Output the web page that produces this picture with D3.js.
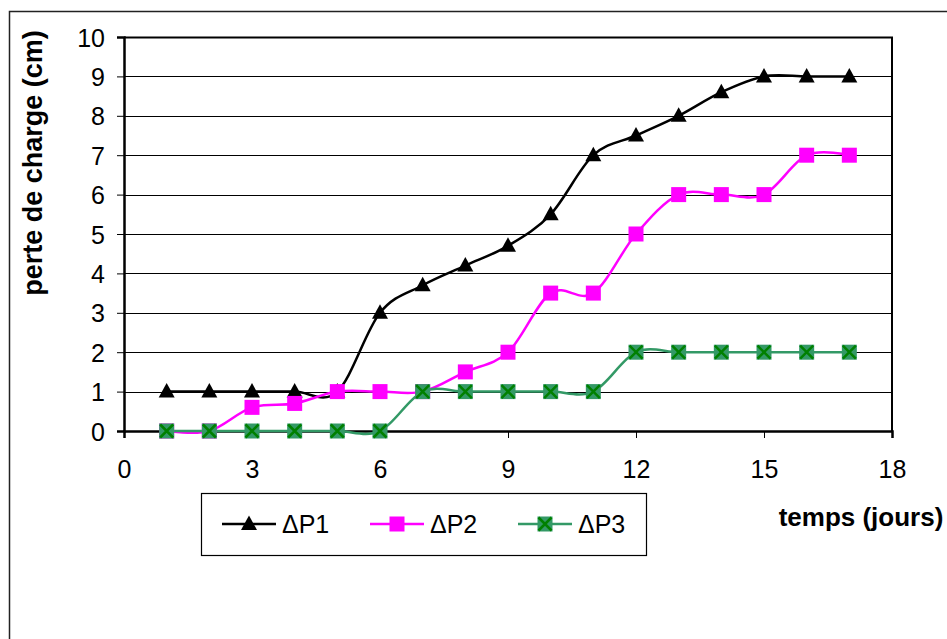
<!DOCTYPE html>
<html><head><meta charset="utf-8">
<script src="https://cdn.jsdelivr.net/npm/d3@7"></script>
<style>body{margin:0;background:#fff}svg{display:block}text{font-family:"Liberation Sans",Arial,sans-serif}</style>
</head><body><svg id="c" width="947" height="639"></svg>
<script>
const days = [1,2,3,4,5,6,7,8,9,10,11,12,13,14,15,16,17];
const dP1 = [1,1,1,1,1,3,3.7,4.2,4.7,5.5,7,7.5,8,8.6,9,9,9];
const dP2 = [0,0,0.6,0.7,1,1,1,1.5,2,3.5,3.5,5,6,6,6,7,7];
const dP3 = [0,0,0,0,0,0,1,1,1,1,1,2,2,2,2,2,2];
const seriesNames = ["ΔP1","ΔP2","ΔP3"];
const xTicks = [0,3,6,9,12,15,18];
const yTicks = [0,1,2,3,4,5,6,7,8,9,10];

const svg = d3.select("#c");
// outer frame
svg.append("rect").attr("x",9.5).attr("y",11.5).attr("width",960).attr("height",660)
  .attr("fill","none").attr("stroke","#222").attr("stroke-width",1.5);

const L=124,R=892,T=37,B=431;
const x = d3.scaleLinear().domain([0,18]).range([L,R]);
const y = d3.scaleLinear().domain([0,10]).range([B,T]);

// gridlines
svg.append("g").selectAll("line").data(yTicks.filter(d=>d>0)).join("line")
  .attr("x1",L).attr("x2",R).attr("y1",d=>Math.round(y(d))+0.5).attr("y2",d=>Math.round(y(d))+0.5)
  .attr("stroke","#000").attr("stroke-width",1);
// plot border top/right
svg.append("path").attr("d",`M${L},${T+0.5}H${R}V${B}`).attr("fill","none").attr("stroke","#000").attr("stroke-width",2);

const xAxis = svg.append("g").attr("transform",`translate(0,${B})`)
  .call(d3.axisBottom(x).tickValues(xTicks).tickSize(7).tickPadding(22));
const yAxis = svg.append("g").attr("transform",`translate(${L},0)`)
  .call(d3.axisLeft(y).tickValues(yTicks).tickSize(7).tickPadding(12));
[xAxis,yAxis].forEach(a=>{
  a.attr("font-size",25).attr("font-family","Liberation Sans, Arial, sans-serif");
  a.select(".domain").attr("stroke","#000").attr("stroke-width",2.5);
  a.selectAll(".tick line").attr("stroke","#000");
  a.selectAll("text").attr("fill","#000");
});
yAxis.selectAll(".tick text").attr("dy","0.36em");

// axis titles
svg.append("text").attr("transform","translate(42,163) rotate(-90)").attr("text-anchor","middle")
  .attr("font-size",27).attr("font-weight","bold").text("perte de charge (cm)");
svg.append("text").attr("x",861).attr("y",526).attr("text-anchor","middle")
  .attr("font-size",26).attr("font-weight","bold").text("temps (jours)");

const line = d3.line().x((d,i)=>x(days[i])).y(d=>y(d)).curve(d3.curveCardinal.tension(0));
const cfg = [
  {data:dP1,color:"#000",marker:"tri"},
  {data:dP2,color:"#ff00ff",marker:"sq"},
  {data:dP3,color:"#339966",marker:"x"}
];
function drawMarker(g,type,cx,cy){
  if(type==="tri"){
    g.append("path").attr("d",`M${cx},${cy-8.5}L${cx+8},${cy+6}L${cx-8},${cy+6}Z`).attr("fill","#000");
  } else if(type==="sq"){
    g.append("rect").attr("x",cx-7.5).attr("y",cy-7.5).attr("width",15).attr("height",15).attr("fill","#ff00ff");
  } else {
    g.append("rect").attr("x",cx-7.5).attr("y",cy-7.5).attr("width",15).attr("height",15).attr("fill","#339966");
    g.append("path").attr("d",`M${cx-6.5},${cy-6.5}L${cx+6.5},${cy+6.5}M${cx+6.5},${cy-6.5}L${cx-6.5},${cy+6.5}`)
      .attr("stroke","#008000").attr("stroke-width",2.5);
  }
}
cfg.forEach(s=>{
  svg.append("path").datum(s.data).attr("d",line).attr("fill","none").attr("stroke",s.color).attr("stroke-width",2.5);
});
cfg.forEach(s=>{
  const g = svg.append("g");
  s.data.forEach((v,i)=>drawMarker(g,s.marker,x(days[i]),y(v)));
});

// legend
svg.append("rect").attr("x",201.5).attr("y",493.5).attr("width",445).attr("height",62)
  .attr("fill","#fff").attr("stroke","#000").attr("stroke-width",1.2);
const legX=[222,370,518];
cfg.forEach((s,i)=>{
  const g=svg.append("g");
  g.append("line").attr("x1",legX[i]).attr("x2",legX[i]+54).attr("y1",524).attr("y2",524).attr("stroke",s.color).attr("stroke-width",2.5);
  drawMarker(g,s.marker,legX[i]+27,524);
  g.append("text").attr("x",legX[i]+60).attr("y",533).attr("font-size",25).text(seriesNames[i]);
});
</script></body></html>
